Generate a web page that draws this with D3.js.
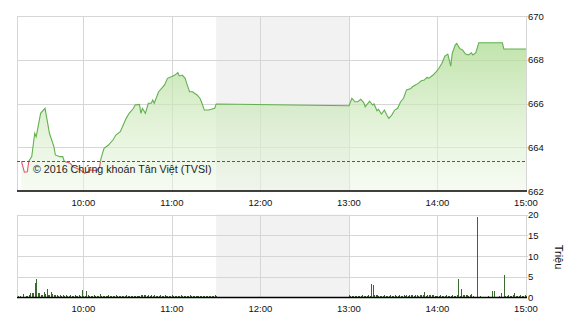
<!DOCTYPE html>
<html lang="vi">
<head>
  <meta charset="UTF-8" />
  <title>VN-Index intraday</title>
  <script src="https://d3js.org/d3.v7.min.js"></script>
  <style>
    body {
      margin: 0;
      background: #fff;
      font-family: "Liberation Sans", Arial, sans-serif;
    }
    svg { display: block; }
    .grid { stroke: #d6d6d6; stroke-width: 1; shape-rendering: crispEdges; }
    .tick-label { font-size: 9.5px; fill: #111; }
  </style>
</head>
<body>
  <svg width="570" height="320"></svg>

  <script>
    // price series (index points)
    const priceTimes = [
      "09:18", "09:20", "09:22", "09:23", "09:25", "09:27", "09:28", "09:31", "09:34", "09:35",
      "09:37", "09:40", "09:41", "09:44", "09:46", "09:47", "09:51", "09:53", "09:58", "10:01",
      "10:05", "10:09", "10:11", "10:12", "10:14", "10:17", "10:20", "10:22", "10:25", "10:27",
      "10:29", "10:31", "10:34", "10:35", "10:38", "10:39", "10:40", "10:42", "10:44", "10:46",
      "10:47", "10:48", "10:51", "10:53", "10:55", "10:57", "11:00", "11:02", "11:04", "11:05",
      "11:07", "11:09", "11:10", "11:12", "11:14", "11:17", "11:19", "11:20", "11:22", "11:25",
      "11:29", "11:30", "13:00", "13:02", "13:04", "13:06", "13:08", "13:10", "13:11", "13:14",
      "13:16", "13:17", "13:19", "13:20", "13:22", "13:24", "13:26", "13:27", "13:29", "13:31",
      "13:33", "13:35", "13:37", "13:39", "13:42", "13:43", "13:45", "13:47", "13:49", "13:51",
      "13:53", "13:54", "13:57", "13:59", "14:01", "14:03", "14:05", "14:07", "14:09", "14:10",
      "14:12", "14:13", "14:15", "14:17", "14:19", "14:21", "14:23", "14:24", "14:26", "14:28",
      "14:44", "14:45", "15:00"
    ];
    const priceValues = [
      663.36, 662.86, 662.88, 663.36, 663.57, 664.64, 664.48, 665.55, 665.78, 665.40,
      664.64, 664.03, 663.65, 663.57, 663.57, 663.36, 663.27, 663.11, 662.96, 662.81,
      662.96, 662.93, 663.11, 663.50, 663.95, 664.10, 664.33, 664.56, 664.71, 665.02,
      665.32, 665.55, 665.78, 665.93, 665.96, 665.55, 665.78, 665.55, 666.01, 666.01,
      666.16, 666.01, 666.54, 666.69, 666.85, 667.15, 667.23, 667.30, 667.41, 667.26,
      667.30, 667.15, 666.92, 666.54, 666.54, 666.39, 666.24, 666.08, 665.70, 665.70,
      665.78, 665.98, 665.90, 666.24, 666.08, 666.08, 666.19, 666.04, 665.85, 666.11,
      665.93, 665.98, 665.67, 665.73, 665.52, 665.70, 665.43, 665.32, 665.47, 665.70,
      665.78, 666.08, 666.24, 666.62, 666.69, 666.77, 666.85, 666.92, 667.04, 667.07,
      667.20, 667.15, 667.30, 667.45, 667.61, 667.84, 668.17, 668.26, 667.71, 668.29,
      668.67, 668.75, 668.52, 668.45, 668.26, 668.22, 668.32, 668.22, 668.32, 668.78,
      668.78, 668.49, 668.49
    ];
    const refPrice = 663.36;

    // volume per minute, millions of shares
    const volMorningStart = "09:15";
    const volMorning = [
      0.0, 0.3, 0.3, 0.2, 0.8, 0.2, 0.3, 0.4, 0.6, 1.0,
      1.1, 1.2, 3.4, 4.4, 1.1, 1.0, 0.5, 0.7, 1.4, 0.8,
      2.0, 0.6, 0.5, 1.4, 0.8, 0.6, 0.7, 0.5, 0.4, 0.6,
      0.4, 0.5, 0.3, 0.6, 0.4, 0.3, 0.5, 0.4, 0.3, 0.5,
      0.4, 0.3, 0.6, 0.4, 1.8, 0.3, 0.4, 1.5, 0.5, 0.3,
      0.4, 0.3, 0.5, 0.3, 0.4, 0.3, 0.8, 0.3, 0.4, 0.3,
      0.4, 0.3, 0.5, 0.3, 0.3, 0.4, 0.3, 0.5, 0.4, 0.3,
      0.4, 0.3, 0.4, 0.3, 0.5, 0.4, 0.3, 0.4, 0.3, 0.4,
      0.3, 0.4, 0.3, 0.4, 0.6, 0.6, 0.6, 0.5, 0.3, 0.6,
      0.4, 0.6, 0.3, 0.7, 0.4, 0.3, 0.4, 0.5, 0.4, 0.3,
      0.5, 0.4, 0.3, 0.4, 0.3, 0.5, 0.4, 0.3, 0.4, 0.3,
      0.4, 0.5, 0.3, 0.4, 0.3, 0.4, 0.3, 0.5, 0.3, 0.4,
      0.3, 0.4, 0.3, 0.4, 0.3, 0.4, 0.3, 0.3, 0.4, 0.3,
      0.4, 0.3, 0.4, 0.3, 0.5, 0.3
    ];
    const volAfternoonStart = "13:00";
    const volAfternoon = [
      0.7, 0.4, 0.3, 0.4, 0.4, 0.3, 0.4, 0.3, 0.4, 0.5,
      0.3, 0.4, 0.3, 0.5, 0.4, 3.2, 3.0, 0.6, 0.6, 0.5,
      0.4, 0.3, 0.4, 0.3, 0.5, 0.3, 0.4, 0.3, 0.5, 0.3,
      0.4, 0.5, 0.3, 0.4, 0.5, 0.4, 0.3, 0.5, 0.4, 0.6,
      0.4, 0.5, 0.6, 0.7, 0.4, 0.5, 0.6, 0.4, 0.5, 0.6,
      0.5, 1.4, 0.4, 0.5, 0.6, 0.5, 0.6, 0.5, 0.4, 0.3,
      0.4, 0.3, 0.5, 0.3, 0.4, 0.3, 0.5, 0.4, 0.3, 0.4,
      0.5, 0.4, 0.3, 0.5, 4.4, 0.4, 2.0, 0.5, 0.6, 0.5,
      0.5, 0.4, 0.6, 0.8, 0.3, 0.2, 0.0, 19.3, 0.0, 0.3,
      0.0, 0.2, 0.0, 0.0, 0.3, 0.0, 0.0, 1.6, 1.6, 0.0,
      0.2, 0.0, 0.3, 1.1, 0.2, 5.4, 0.4, 0.3, 0.5, 0.4,
      0.3, 0.5, 1.1, 0.3, 0.4, 0.3, 0.5, 0.4, 0.3, 0.7,
      0.3
    ];

    const timeDomain = ["09:15", "15:00"];
    const lunchBreak = ["11:30", "13:00"];
    const timeTicks = ["10:00", "11:00", "12:00", "13:00", "14:00", "15:00"];
    const priceTicks = [662, 664, 666, 668, 670];
    const volTicks = [0, 5, 10, 15, 20];
    const copyright = "© 2016 Chứng khoán Tân Việt (TVSI)";
    const volTitle = "Triệu";

    const parseTime = d3.timeParse("%H:%M");
    const svg = d3.select("svg");

    const left = 17, right = 526;
    const top1 = 16, bottom1 = 191;
    const top2 = 214.5, bottom2 = 297.5;

    const x = d3.scaleTime().domain(timeDomain.map(parseTime)).range([left, right]);
    const y = d3.scaleLinear().domain([662, 670]).range([bottom1, top1]);
    const yv = d3.scaleLinear().domain([0, 20]).range([bottom2, top2]);

    const prices = priceTimes.map((t, i) => ({ t: parseTime(t), v: priceValues[i] }));

    function volumeRows(start, values) {
      const t0 = parseTime(start);
      return values.map((v, i) => ({ t: d3.timeMinute.offset(t0, i), v }));
    }
    const volumes = volumeRows(volMorningStart, volMorning)
      .concat(volumeRows(volAfternoonStart, volAfternoon));

    const defs = svg.append("defs");
    const grad = defs.append("linearGradient")
      .attr("id", "areaFill")
      .attr("gradientUnits", "userSpaceOnUse")
      .attr("x1", 0).attr("x2", 0)
      .attr("y1", top1).attr("y2", bottom1);
    grad.append("stop").attr("offset", 0).attr("stop-color", "#a6d888").attr("stop-opacity", 0.85);
    grad.append("stop").attr("offset", 1).attr("stop-color", "#eef7e6").attr("stop-opacity", 0.5);

    defs.append("clipPath").attr("id", "aboveRef")
      .append("rect")
      .attr("x", left).attr("y", 0)
      .attr("width", right - left).attr("height", y(refPrice));
    defs.append("clipPath").attr("id", "belowRef")
      .append("rect")
      .attr("x", left).attr("y", y(refPrice))
      .attr("width", right - left).attr("height", bottom1 - y(refPrice));

    // frame, lunch band and grid for a panel
    function panel(top, bottom, yScale, ticks) {
      const g = svg.append("g");
      g.append("rect")
        .attr("x", x(parseTime(lunchBreak[0])))
        .attr("y", top)
        .attr("width", x(parseTime(lunchBreak[1])) - x(parseTime(lunchBreak[0])))
        .attr("height", bottom - top)
        .attr("fill", "#f2f2f2");

      g.selectAll(".hgrid")
        .data(ticks.slice(1))
        .join("line")
        .attr("class", "grid")
        .attr("x1", left).attr("x2", right + 2)
        .attr("y1", d => Math.round(yScale(d)) + 0.5)
        .attr("y2", d => Math.round(yScale(d)) + 0.5);

      g.selectAll(".vgrid")
        .data(timeTicks.slice(0, -1))
        .join("line")
        .attr("class", "grid")
        .attr("x1", d => Math.round(x(parseTime(d))) + 0.5)
        .attr("x2", d => Math.round(x(parseTime(d))) + 0.5)
        .attr("y1", top).attr("y2", bottom);

      g.append("line").attr("class", "grid")
        .attr("x1", left + 0.5).attr("x2", left + 0.5)
        .attr("y1", top).attr("y2", bottom);
      g.append("line").attr("class", "grid")
        .attr("x1", right + 0.5).attr("x2", right + 0.5)
        .attr("y1", top).attr("y2", bottom);
      return g;
    }

    function axisLabels(bottom, yScale, ticks, labelY) {
      svg.append("g").selectAll("text")
        .data(ticks)
        .join("text")
        .attr("class", "tick-label")
        .attr("x", right + 2)
        .attr("y", d => yScale(d) + 3.5)
        .text(d => d);

      svg.append("g").selectAll("text")
        .data(timeTicks)
        .join("text")
        .attr("class", "tick-label")
        .attr("text-anchor", "middle")
        .attr("x", d => x(parseTime(d)))
        .attr("y", labelY)
        .text(d => d);

      svg.append("line")
        .attr("x1", left).attr("x2", right + 1)
        .attr("y1", bottom).attr("y2", bottom)
        .attr("stroke", "#000")
        .attr("stroke-width", 1.5);
    }

    // price panel
    const p1 = panel(top1, bottom1, y, priceTicks);

    p1.append("path")
      .datum(prices)
      .attr("fill", "url(#areaFill)")
      .attr("d", d3.area().x(d => x(d.t)).y0(bottom1).y1(d => y(d.v)));

    const line = d3.line().x(d => x(d.t)).y(d => y(d.v));
    p1.append("path")
      .datum(prices)
      .attr("clip-path", "url(#aboveRef)")
      .attr("fill", "none")
      .attr("stroke", "#62b04f")
      .attr("stroke-width", 1.1)
      .attr("d", line);
    p1.append("path")
      .datum(prices)
      .attr("clip-path", "url(#belowRef)")
      .attr("fill", "none")
      .attr("stroke", "#e35a6b")
      .attr("stroke-width", 1.1)
      .attr("d", line);

    p1.append("line")
      .attr("x1", left).attr("x2", right)
      .attr("y1", Math.round(y(refPrice)) + 0.5)
      .attr("y2", Math.round(y(refPrice)) + 0.5)
      .attr("stroke", "#f01818")
      .attr("stroke-dasharray", "3,2")
      .attr("shape-rendering", "crispEdges");

    p1.append("text")
      .attr("x", 33)
      .attr("y", 173)
      .attr("font-size", 10.7)
      .attr("fill", "#222")
      .text(copyright);

    axisLabels(bottom1, y, priceTicks, 206);

    // volume panel
    const p2 = panel(top2, bottom2, yv, volTicks);

    p2.selectAll(".bar")
      .data(volumes.filter(d => d.v > 0))
      .join("rect")
      .attr("x", d => Math.round(x(d.t)))
      .attr("y", d => yv(d.v))
      .attr("width", 1)
      .attr("height", d => bottom2 - yv(d.v))
      .attr("fill", "#3b6a2e")
      .attr("shape-rendering", "crispEdges");

    axisLabels(bottom2, yv, volTicks, 312);

    svg.append("text")
      .attr("transform", "translate(555,257) rotate(90)")
      .attr("text-anchor", "middle")
      .attr("font-size", 11)
      .attr("fill", "#111")
      .text(volTitle);
  </script>
</body>
</html>
